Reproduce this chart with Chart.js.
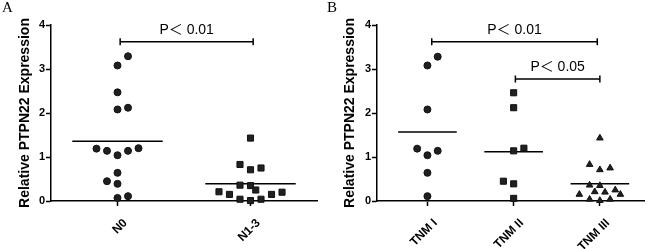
<!DOCTYPE html>
<html>
<head>
<meta charset="utf-8">
<script src="https://cdn.jsdelivr.net/npm/chart.js@4.4.1/dist/chart.umd.min.js"></script>
<style>
  html, body { margin:0; padding:0; background:#fff; }
  #wrap { position:relative; width:650px; height:249px; overflow:hidden; }
  .panel { position:absolute; top:0; width:325px; height:249px; }
  .letter { position:absolute; top:-1px; font-family:"Liberation Serif","Times New Roman",serif; font-size:15px; color:#000; }
</style>
</head>
<body>
<div id="wrap">
  <div class="panel" style="left:0"><canvas id="cA" width="325" height="249"></canvas></div>
  <div class="panel" style="left:325px"><canvas id="cB" width="325" height="249"></canvas></div>
  <div class="letter" style="left:2px">A</div>
  <div class="letter" style="left:327px">B</div>
</div>
<script>
// ---- Data ----
const categoriesA = ['N0', 'N1-3'];
const categoriesB = ['TNM I', 'TNM II', 'TNM III'];
const yTicks = [0, 1, 2, 3, 4];
const yTitle = 'Relative PTPN22 Expression';

// Panel A
const n0Values   = [3.29, 3.08, 2.47, 2.08, 2.12, 1.19, 1.14, 1.04, 1.14, 1.20, 0.64, 0.45, 0.39, 0.07, 0.11];
const n0Slots    = [1, 0, 0, 0, 1, -2, -1, 0, 1, 2, 0, -1, 0, 0, 1];
const n13Values  = [1.43, 0.83, 0.71, 0.75, 0.36, 0.35, 0.25, 0.21, 0.15, 0.15, 0.20, 0.04, 0.01, 0.04];
const n13Slots   = [0, -1, 0, 1, -1, 0, 0.5, -3, -2, 2, 3, -1, 0, 1];

// Panel B
const tnm1Values = [3.28, 3.08, 2.08, 1.19, 1.04, 1.14, 0.64, 0.11];
const tnm1Slots  = [1, 0, 0, -1, 0, 1, 0, 0];
const tnm2Values = [2.46, 2.12, 1.14, 1.20, 0.45, 0.39, 0.06];
const tnm2Slots  = [0, 0, 0, 1, -1, 0, 0];
const tnm3Values = [1.43, 0.83, 0.71, 0.75, 0.36, 0.35, 0.21, 0.20, 0.15, 0.25, 0.15, 0.04, 0.01, 0.04];
const tnm3Slots  = [0, -1, 0, 1, -1, 0, -0.5, 0.5, -2, 1.5, 2, -1, 0, 1];

// Significance comparisons
const bracketsA = [{ from: 0.02, to: 1.02, y: 3.62, label: 'P\uFF1C 0.01' }];
const bracketsB = [
  { from: 0.05, to: 1.97, y: 3.62, label: 'P\uFF1C 0.01' },
  { from: 1.02, to: 2.0, y: 2.77, label: 'P\uFF1C 0.05' }
];

// ---- Helpers ----
const FONT = '"Liberation Sans", Arial, sans-serif';
const mean = a => a.reduce((s, v) => s + v, 0) / a.length;
const pts = (vals, slots, idx, step) => vals.map((v, i) => ({ x: idx + slots[i] * step, y: v }));

function groupSets(vals, slots, idx, step, style, radius) {
  const m = mean(vals);
  return [
    {
      data: pts(vals, slots, idx, step),
      pointStyle: style, pointRadius: radius, pointHoverRadius: radius,
      backgroundColor: '#231f20', borderColor: '#111', borderWidth: 1,
      showLine: false, clip: false
    },
    {
      data: [{ x: idx - 0.34, y: m }, { x: idx + 0.34, y: m }],
      showLine: true, pointRadius: 0, borderColor: '#000', borderWidth: 1.5,
      clip: false
    }
  ];
}

const bracketPlugin = {
  id: 'brackets',
  afterDatasetsDraw(chart, args, opts) {
    const { ctx, scales: { x, y } } = chart;
    (opts.items || []).forEach(b => {
      const x0 = x.getPixelForValue(b.from), x1 = x.getPixelForValue(b.to);
      const yy = y.getPixelForValue(b.y);
      ctx.save();
      ctx.strokeStyle = '#000';
      ctx.lineWidth = 1.5;
      ctx.beginPath();
      ctx.moveTo(x0, yy - 3.5); ctx.lineTo(x0, yy + 3.5);
      ctx.moveTo(x0, yy); ctx.lineTo(x1, yy);
      ctx.moveTo(x1, yy - 3.5); ctx.lineTo(x1, yy + 3.5);
      ctx.stroke();
      ctx.font = '14px "Liberation Sans", Arial, "Noto Sans CJK SC", sans-serif';
      ctx.fillStyle = '#000';
      ctx.textAlign = 'center';
      ctx.textBaseline = 'middle';
      ctx.fillText(b.label, (x0 + x1) / 2, yy - 12);
      ctx.restore();
    });
  }
};

function makePanel(canvasId, cats, datasets, brackets, xmin, xmax, yWidth, padRight) {
  return new Chart(document.getElementById(canvasId), {
    type: 'scatter',
    data: { datasets },
    plugins: [bracketPlugin],
    options: {
      responsive: false,
      animation: false,
      events: [],
      layout: { padding: { top: 25, right: padRight, left: 0, bottom: 0 } },
      plugins: {
        legend: { display: false },
        tooltip: { enabled: false },
        brackets: { items: brackets }
      },
      scales: {
        x: {
          type: 'linear', min: xmin, max: xmax,
          afterBuildTicks: s => { s.ticks = cats.map((c, i) => ({ value: i })); },
          afterFit: s => { s.height = 48; },
          ticks: {
            callback: v => cats[v],
            autoSkip: false, minRotation: 45, maxRotation: 45, padding: 10, labelOffset: 8,
            color: '#000', font: { family: FONT, size: 12, weight: 'bold' }
          },
          grid: { drawOnChartArea: false, tickLength: 5, tickWidth: 1.5, tickColor: '#000' },
          border: { color: '#000', width: 1.5 }
        },
        y: {
          min: 0, max: 4,
          afterBuildTicks: s => { s.ticks = yTicks.map(v => ({ value: v })); },
          afterFit: s => { s.width = yWidth; },
          ticks: { padding: 1, color: '#000', font: { family: FONT, size: 11, weight: 'bold' } },
          title: {
            display: true, text: yTitle, color: '#000',
            font: { family: FONT, size: 14, weight: 'bold' },
            padding: { top: 17, bottom: 0 }
          },
          grid: { drawOnChartArea: false, tickLength: 5, tickWidth: 1.5, tickColor: '#000' },
          border: { color: '#000', width: 1.5 }
        }
      }
    }
  });
}

const stepA = 0.079, stepB = 0.119;
makePanel('cA', categoriesA, [
  ...groupSets(n0Values, n0Slots, 0, stepA, 'circle', 3.5),
  ...groupSets(n13Values, n13Slots, 1, stepA, 'rect', 4.3)
], bracketsA, -0.5, 1.5, 51, 8);

makePanel('cB', categoriesB, [
  ...groupSets(tnm1Values, tnm1Slots, 0, stepB, 'circle', 3.5),
  ...groupSets(tnm2Values, tnm2Slots, 1, stepB, 'rect', 4.3),
  ...groupSets(tnm3Values, tnm3Slots, 2, stepB, 'triangle', 3.8)
], bracketsB, -0.585, 2.52, 52, 0);
</script>
</body>
</html>
